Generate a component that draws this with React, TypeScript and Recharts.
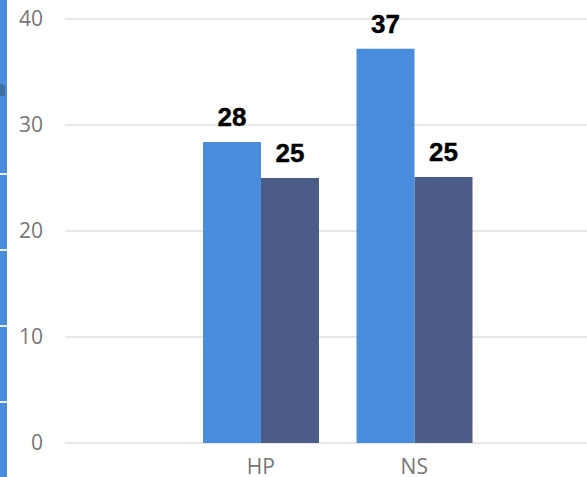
import React from "react";
import { BarChart, Bar, XAxis, YAxis, CartesianGrid, LabelList } from "recharts";

const categories = ["HP", "NS"];
const seriesA = [28.4, 37.2];
const seriesB = [25.0, 25.1];
const yTicks = [0, 10, 20, 30, 40];

const data = categories.map((c, i) => ({ name: c, a: seriesA[i], b: seriesB[i] }));

const fmt = (v: any) => Math.round(Number(v)).toString();

const labelStyle = { fill: "#000", fontSize: 26, fontWeight: "bold" as const, fontFamily: "Liberation Sans", stroke: "#000", strokeWidth: 0.4 };

export default function App() {
  return (
    <div style={{ position: "fixed", left: 0, top: 0, width: 587, height: 477, background: "#fff", overflow: "hidden" }}>
      <div style={{ position: "absolute", left: 0, top: 0, width: 7, height: 477, background: "#4a8ddc" }}>
        <div style={{ position: "absolute", left: 0, top: 84, width: 5, height: 12, background: "#3f6f9f", borderTopRightRadius: 4 }} />
        {[173, 249, 325, 401].map((t) => (
          <div key={t} style={{ position: "absolute", left: 0, top: t, width: 7, height: 2, background: "#e8eef8" }} />
        ))}
      </div>
      <div style={{ position: "absolute", left: 0, top: 0 }}>
        <BarChart
          width={587}
          height={477}
          data={data}
          margin={{ top: 19, right: 0, bottom: 0, left: 0 }}
          barGap={0}
          barSize={58}
        >
          <CartesianGrid vertical={false} stroke="#e8e8e8" strokeWidth={2} />
          <XAxis
            dataKey="name"
            axisLine={false}
            tickLine={false}
            height={34}
            tickMargin={10}
            padding={{ left: 119, right: 96 }}
            tick={{ fill: "#777", fontSize: 21, fontFamily: "Open Sans" }}
          />
          <YAxis
            domain={[0, 40]}
            ticks={yTicks}
            axisLine={false}
            tickLine={false}
            width={65}
            tickMargin={16}
            tick={{ fill: "#777", fontSize: 21, fontFamily: "Open Sans" }}
          />
          <Bar dataKey="a" fill="#4a8ddc" isAnimationActive={false}>
            <LabelList dataKey="a" position="top" offset={16} formatter={fmt} style={labelStyle} />
          </Bar>
          <Bar dataKey="b" fill="#4b5c89" isAnimationActive={false}>
            <LabelList dataKey="b" position="top" offset={16} formatter={fmt} style={labelStyle} />
          </Bar>
        </BarChart>
      </div>
    </div>
  );
}
